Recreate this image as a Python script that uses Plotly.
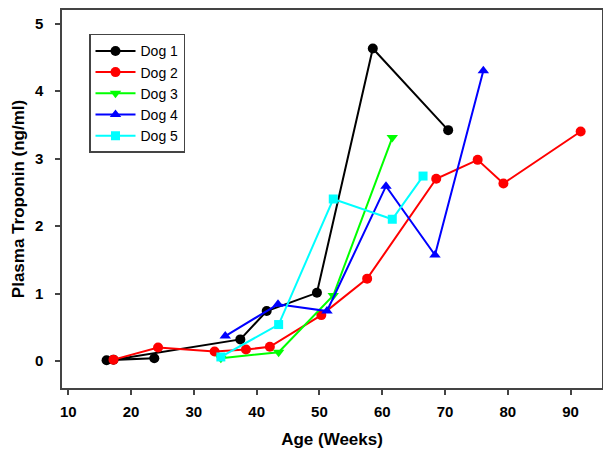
import plotly.graph_objects as go

dog1_x = [16.1, 23.7, 17.2, 37.4, 41.6, 49.6, 58.5, 70.5]
dog1_y = [0.01, 0.04, 0.02, 0.32, 0.74, 1.01, 4.63, 3.42]
dog2_x = [17.2, 24.3, 33.3, 38.3, 42.1, 50.3, 57.6, 68.6, 75.2, 79.3, 91.6]
dog2_y = [0.02, 0.20, 0.14, 0.17, 0.21, 0.68, 1.22, 2.70, 2.98, 2.63, 3.40]
dog3_x = [34.3, 43.5, 52.2, 61.6]
dog3_y = [0.04, 0.13, 0.97, 3.31]
dog4_x = [35.0, 43.4, 51.2, 60.6, 68.4, 76.1]
dog4_y = [0.37, 0.84, 0.74, 2.59, 1.57, 4.30]
dog5_x = [34.3, 43.5, 52.2, 61.6, 66.5]
dog5_y = [0.06, 0.54, 2.40, 2.10, 2.74]

names = ["Dog 1", "Dog 2", "Dog 3", "Dog 4", "Dog 5"]
colors = ["#000000", "#FF0000", "#00FF00", "#0000FF", "#00FFFF"]
symbols = ["circle", "circle", "triangle-down", "triangle-up", "square"]
sizes = [10, 10, 10, 10, 9]
xs = [dog1_x, dog2_x, dog3_x, dog4_x, dog5_x]
ys = [dog1_y, dog2_y, dog3_y, dog4_y, dog5_y]

xticks = [10, 20, 30, 40, 50, 60, 70, 80, 90]
yticks = [0, 1, 2, 3, 4, 5]

fig = go.Figure()
for n, c, s, sz, x, y in zip(names, colors, symbols, sizes, xs, ys):
    fig.add_trace(go.Scatter(x=x, y=y, name=n, mode="lines+markers",
                             line=dict(color=c, width=2),
                             marker=dict(color=c, symbol=s, size=sz)))

axis_common = dict(showgrid=False, zeroline=False, showline=True, mirror=True,
                   linecolor="#444444", linewidth=1.5, ticks="outside",
                   tickcolor="#444444", ticklen=5, tickwidth=1.5, automargin=False,
                   tickfont=dict(family="Liberation Sans", size=15, color="#000000", weight="bold"))

# page body has an 8px default margin, so the figure is sized to fill the rest
fig.update_layout(
    width=603, height=454,
    margin=dict(l=54, r=9, t=2, b=74),
    plot_bgcolor="white", paper_bgcolor="white",
    font=dict(family="Liberation Sans", color="#000000"),
    xaxis=dict(range=[9, 95], tickvals=xticks, ticklabelstandoff=4,
               title=dict(text="<b>Age (Weeks)</b>", font=dict(size=17), standoff=14),
               **axis_common),
    yaxis=dict(range=[-0.4, 5.2], tickvals=yticks, ticklabelstandoff=9,
               title=dict(text="<b>Plasma Troponin (ng/ml)</b>", font=dict(size=17), standoff=6),
               **axis_common),
    legend=dict(x=0.05, y=0.937, xanchor="left", yanchor="top",
                bordercolor="#444444", borderwidth=1.5, bgcolor="white",
                font=dict(size=14, family="Liberation Sans"),
                tracegroupgap=0, itemwidth=40),
)

fig.write_html("out.html")
